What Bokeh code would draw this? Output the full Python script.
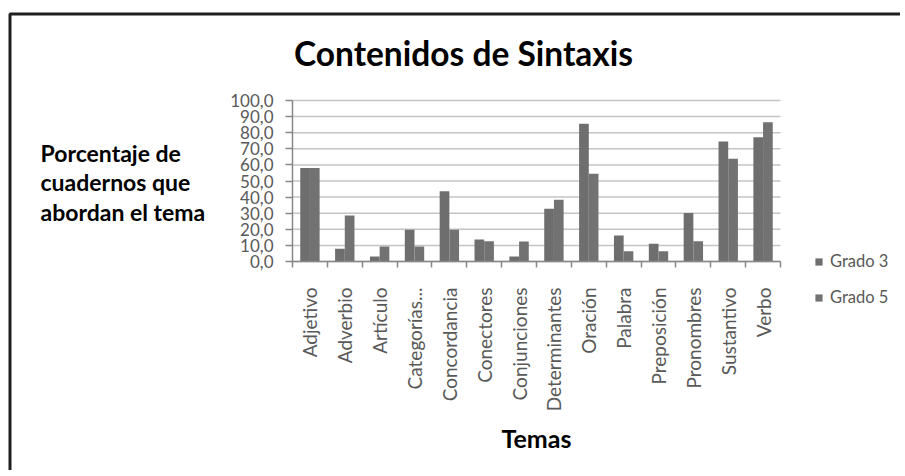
import numpy as np
from bokeh.plotting import figure
from bokeh.models import (Range1d, FixedTicker, Label, Legend, LegendItem,
                          BoxAnnotation, ColumnDataSource)
from bokeh.embed import file_html
from bokeh.resources import INLINE

# ---------------- data ----------------
temas = ["Adjetivo", "Adverbio", "Artículo", "Categorías...", "Concordancia",
         "Conectores", "Conjunciones", "Determinantes", "Oración", "Palabra",
         "Preposición", "Pronombres", "Sustantivo", "Verbo"]
grado3 = [58.0, 7.9, 3.1, 19.7, 43.7, 13.7, 3.1, 32.7, 85.5, 16.1, 11.0, 30.2, 74.5, 77.2]
grado5 = [58.0, 28.6, 9.3, 9.3, 19.7, 12.6, 12.4, 38.3, 54.5, 6.4, 6.4, 12.6, 63.8, 86.5]
y_ticks = [0, 10, 20, 30, 40, 50, 60, 70, 80, 90, 100]
y_tick_labels = ["0,0", "10,0", "20,0", "30,0", "40,0", "50,0", "60,0",
                 "70,0", "80,0", "90,0", "100,0"]
series_names = ["Grado 3", "Grado 5"]
title_text = "Contenidos de Sintaxis"
ylabel_lines = ["Porcentaje de", "cuadernos que", "abordan el tema"]
xlabel_text = "Temas"

# ---------------- layout (pixel geometry) ----------------
W, H = 900, 470
P_L, P_R, P_T, P_B = 292, 780, 100, 261   # plot-area edges in pixels
n = len(temas)
Y_MAX = 100

def dx(px):
    return (px - P_L) / (P_R - P_L) * n

def dy(py):
    return (P_B - py) / (P_B - P_T) * Y_MAX

FONT = "Lato"
TXT = "#595959"
AX = "#878787"

p = figure(width=W, height=H, output_backend="svg", toolbar_location=None,
           x_range=Range1d(dx(0), dx(W)), y_range=Range1d(dy(H), dy(0)),
           min_border=0)
p.min_border_left = p.min_border_right = p.min_border_top = p.min_border_bottom = 0
p.outline_line_color = None
p.background_fill_color = "white"
p.border_fill_color = "white"
p.xgrid.visible = False
p.ygrid.visible = False

centers = [i + 0.5 for i in range(n)]
bounds = [float(i) for i in range(n + 1)]

# horizontal gridlines, limited to the plot area
p.segment(x0=[0] * len(y_ticks), x1=[n] * len(y_ticks), y0=y_ticks, y1=y_ticks,
          line_color="#c4c4c4", line_width=1.5, level="underlay")

bw = 0.278
src = ColumnDataSource(dict(x3=[c - bw / 2 for c in centers],
                            x5=[c + bw / 2 for c in centers],
                            g3=grado3, g5=grado5))
r3 = p.vbar(x="x3", top="g3", width=bw, source=src, fill_color="#6e6e6e",
            line_color=None)
r5 = p.vbar(x="x5", top="g5", width=bw, source=src, fill_color="#727272",
            line_color=None)

# x axis (fixed at y=0)
xa = p.xaxis[0]
xa.fixed_location = 0
xa.bounds = (0, n)
xa.ticker = FixedTicker(ticks=centers, minor_ticks=bounds)
xa.major_label_overrides = {c: t for c, t in zip(centers, temas)}
xa.major_label_orientation = np.pi / 2
xa.major_tick_out = 0
xa.major_tick_in = 0
xa.minor_tick_out = 6
xa.minor_tick_in = 0
xa.minor_tick_line_color = AX
xa.minor_tick_line_width = 1.5
xa.axis_line_color = AX
xa.axis_line_width = 1.5
xa.major_label_standoff = 20
xa.major_label_text_font = FONT
xa.major_label_text_font_size = "19px"
xa.major_label_text_color = TXT

# y axis (fixed at x=0)
ya = p.yaxis[0]
ya.fixed_location = 0
ya.bounds = (0, Y_MAX)
ya.ticker = FixedTicker(ticks=y_ticks)
ya.major_label_overrides = {t: l for t, l in zip(y_ticks, y_tick_labels)}
ya.major_tick_out = 7
ya.major_tick_in = 0
ya.major_tick_line_color = AX
ya.major_tick_line_width = 1.5
ya.minor_tick_out = 0
ya.minor_tick_in = 0
ya.axis_line_color = AX
ya.axis_line_width = 1.5
ya.major_label_standoff = 12
ya.major_label_text_font = FONT
ya.major_label_text_font_size = "17px"
ya.major_label_text_color = TXT

# texts
p.add_layout(Label(x=dx(463), y=dy(52), text=title_text, text_align="center",
                   text_baseline="alphabetic", text_font=FONT,
                   text_font_style="bold", text_font_size="33.5px",
                   text_color="black"))
for line, by in zip(ylabel_lines, [152, 181.5, 211]):
    p.add_layout(Label(x=dx(40), y=dy(by), text=line, text_align="left",
                       text_baseline="alphabetic", text_font=FONT,
                       text_font_style="bold", text_font_size="23px",
                       text_color="black"))
p.add_layout(Label(x=dx(536), y=dy(437), text=xlabel_text, text_align="center",
                   text_baseline="alphabetic", text_font=FONT,
                   text_font_style="bold", text_font_size="25px",
                   text_color="black"))

# legend
legend = Legend(items=[LegendItem(label=series_names[0], renderers=[r3]),
                       LegendItem(label=series_names[1], renderers=[r5])],
                location=(814, H - 307), orientation="vertical",
                padding=0, margin=0, spacing=16, glyph_width=9, glyph_height=9,
                label_height=20, label_standoff=7, border_line_color=None,
                background_fill_alpha=0, label_text_font=FONT,
                label_text_font_size="16.5px", label_text_color=TXT)
p.add_layout(legend, "center")

# outer frame (top and left edges of the chart border)
p.add_layout(BoxAnnotation(left=dx(9.5), top=dy(13.5), right=dx(4000),
                           bottom=dy(4000), fill_alpha=0, line_alpha=1,
                           line_color="#1e1e1e", line_width=3))

open("out.html", "w").write(file_html(p, INLINE))
